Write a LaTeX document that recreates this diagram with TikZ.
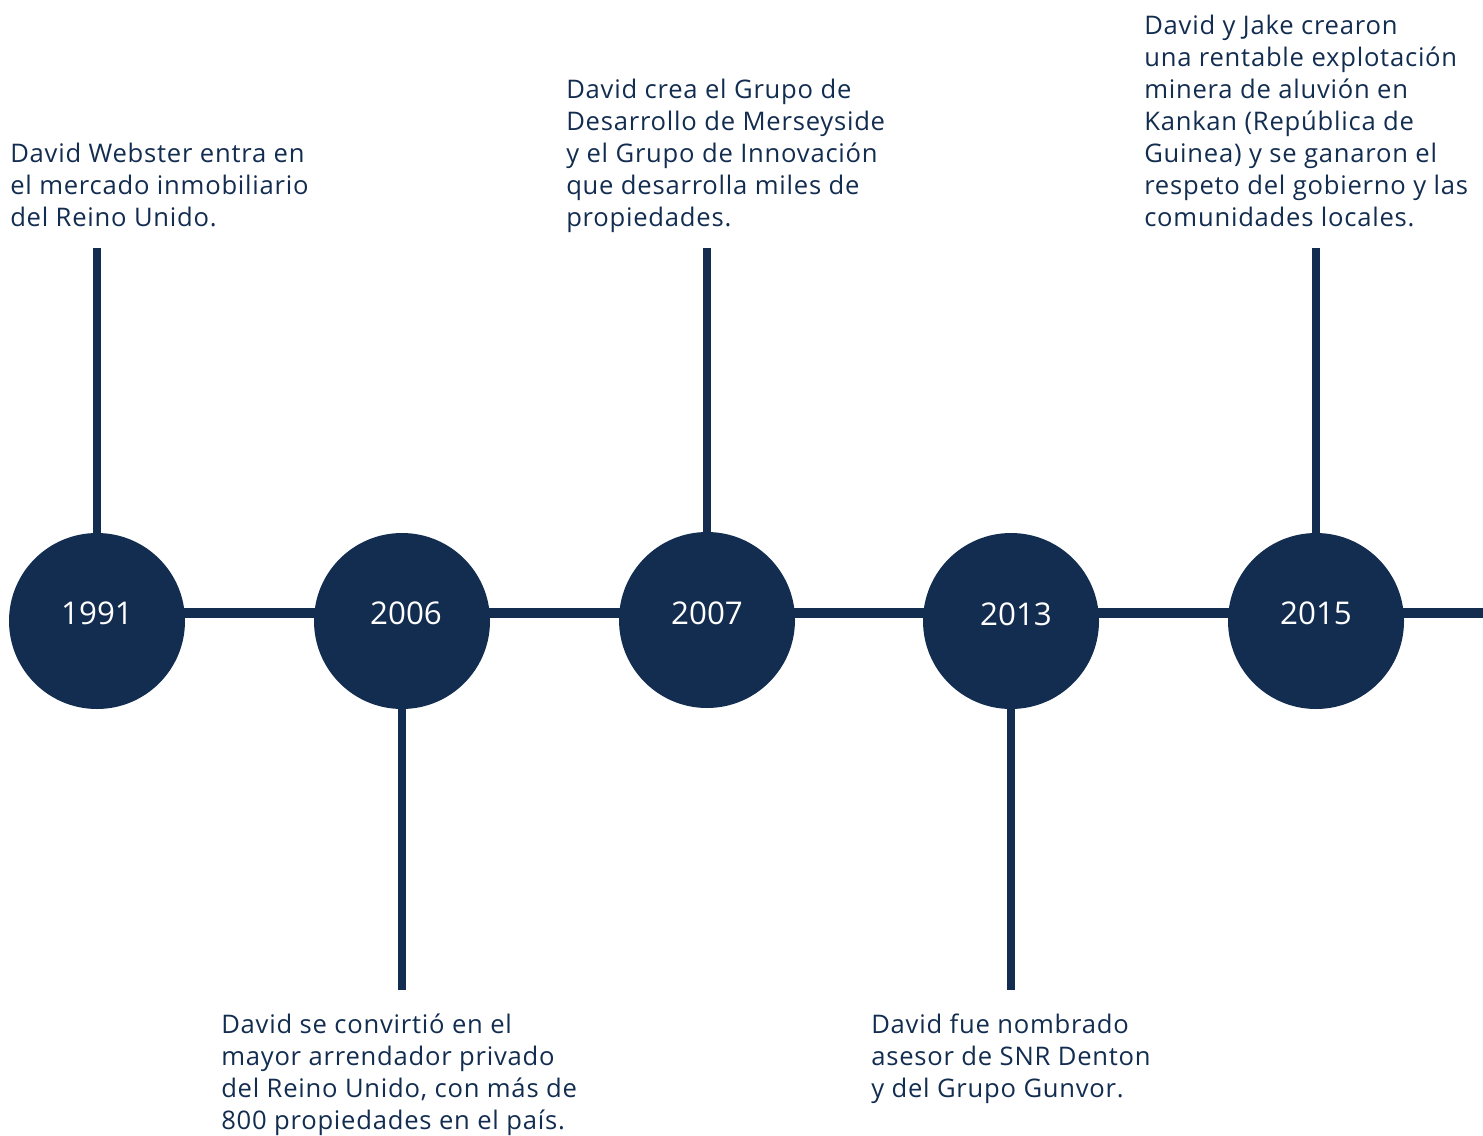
\documentclass[tikz,border=0pt]{standalone}
\usepackage{fontspec}
\setmainfont{Open Sans}
\usetikzlibrary{backgrounds}
\definecolor{navy}{HTML}{132D50}
\tikzset{
  dot/.style={circle, fill=navy, minimum size=132pt, inner sep=0pt, draw=none},
  year/.style={text=white, font=\fontsize{23.5}{28}\selectfont, inner sep=0pt},
  stem/.style={draw=navy, line width=6pt},
  axis/.style={draw=navy, line width=7.5pt},
  desc/.style={text=navy, font=\fontsize{19.2}{24}\selectfont\addfontfeatures{LetterSpace=3}, align=left, inner sep=0pt, anchor=base west},
}
\begin{document}
\begin{tikzpicture}[x=0.75pt, y=-0.75pt]
\useasboundingbox (0,0) rectangle (1483,1135);
% circles
\node[dot] (c1) at (97,621) {};
\node[dot] (c2) at (402,621) {};
\node[dot] (c3) at (707,620) {};
\node[dot] (c4) at (1011,621) {};
\node[dot] (c5) at (1316,621) {};
% years
\node[year] (y1) at (97,613) {1991};
\node[year] (y2) at (406,613) {2006};
\node[year] (y3) at (707,613) {2007};
\node[year] (y4) at (1016,614) {2013};
\node[year] (y5) at (1316,613) {2015};
% axis
\coordinate (axstart) at (97,613);
\coordinate (axend) at (1483,613);
\begin{pgfonlayer}{background}
\draw[axis] (axstart) -- (axend);
\end{pgfonlayer}
% stems
\coordinate (s1) at (97,248);
\coordinate (s2) at (402,990);
\coordinate (s3) at (707,248);
\coordinate (s4) at (1011,990);
\coordinate (s5) at (1316,248);
\draw[stem] (s1) -- (c1.north);
\draw[stem] (s2) -- (c2.south);
\draw[stem] (s3) -- (c3.north);
\draw[stem] (s4) -- (c4.south);
\draw[stem] (s5) -- (c5.north);
% descriptions (anchored at the baseline of the last line)
\node[desc] (d1) at (10,226) {David Webster entra en\\el mercado inmobiliario\\del Reino Unido.};
\node[desc] (d3) at (566,226) {David crea el Grupo de\\Desarrollo de Merseyside\\y el Grupo de Innovación\\que desarrolla miles de\\propiedades.};
\node[desc] (d5) at (1144,226) {David y Jake crearon\\una rentable explotación\\minera de aluvión en\\Kankan (República de\\Guinea) y se ganaron el\\respeto del gobierno y las\\comunidades locales.};
\node[desc] (d2) at (221,1129) {David se convirtió en el\\mayor arrendador privado\\del Reino Unido, con más de\\800 propiedades en el país.};
\node[desc] (d4) at (871,1097) {David fue nombrado\\asesor de SNR Denton\\y del Grupo Gunvor.};
\end{tikzpicture}
\end{document}
